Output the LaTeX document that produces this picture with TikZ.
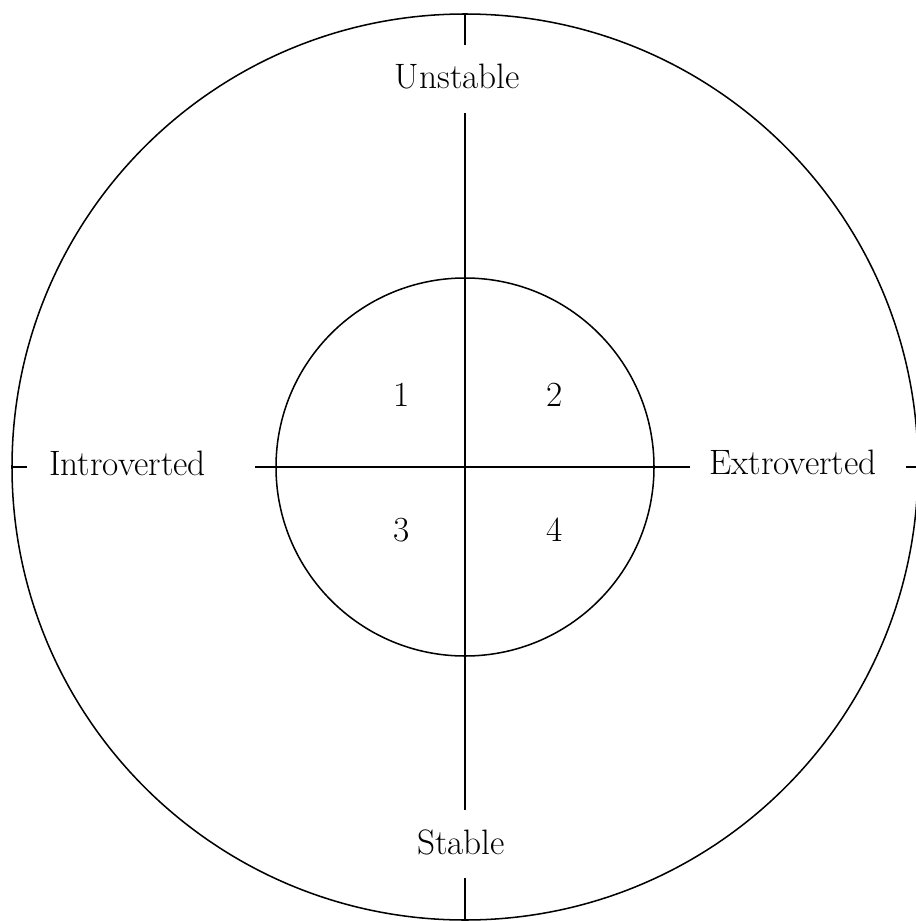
\documentclass[tikz,border=0pt]{standalone}
\usepackage{fontspec}
\setmainfont{Latin Modern Roman}
\begin{document}
\begin{tikzpicture}[x=0.01in,y=-0.01in,
  ln/.style={line width=1.1pt,black},
  lbl/.style={anchor=base,inner sep=0pt,font=\fontsize{25.5}{30}\selectfont}]
\useasboundingbox (0,0) rectangle (915,921);
\coordinate (c) at (465,467);
\draw[ln] (c) circle (453);
\draw[ln] (c) circle (189);
% labels
\node[lbl] (unst) at (457.5,89) {Unstable};
\node[lbl] (stab) at (461,854) {Stable};
\node[lbl] (intr) at (127.5,475) {Introverted};
\node[lbl] (extr) at (793,474) {Extroverted};
\node[lbl] (q1) at (402,406) {1};
\node[lbl] (q2) at (555,406) {2};
\node[lbl] (q3) at (402,541) {3};
\node[lbl] (q4) at (555,541) {4};
% axis end points
\coordinate (bN) at (465,14);
\coordinate (gN1) at (465,45);
\coordinate (gN2) at (465,113);
\coordinate (gS1) at (465,810);
\coordinate (gS2) at (465,878);
\coordinate (bS) at (465,920);
\coordinate (bW) at (12,467);
\coordinate (gW1) at (27,467);
\coordinate (gW2) at (255,467);
\coordinate (gE1) at (690,467);
\coordinate (gE2) at (906,467);
\coordinate (bE) at (918,467);
\draw[ln] (bN) -- (gN1);
\draw[ln] (gN2) -- (gS1);
\draw[ln] (gS2) -- (bS);
\draw[ln] (bW) -- (gW1);
\draw[ln] (gW2) -- (gE1);
\draw[ln] (gE2) -- (bE);
\end{tikzpicture}
\end{document}
